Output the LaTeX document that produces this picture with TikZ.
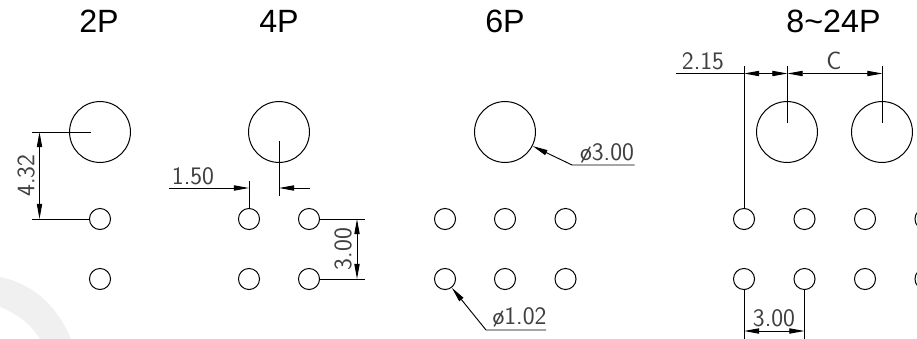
\documentclass[tikz,border=0pt]{standalone}
\usepackage{fontspec}
\usepackage{tikz}
\usetikzlibrary{arrows.meta}
\newfontfamily\titlefont{Liberation Sans}
\tikzset{
    bighole/.style={circle,draw,line width=0.85pt,minimum size=52pt,inner sep=0pt},
    pad/.style={circle,draw,line width=0.85pt,minimum size=18pt,inner sep=0pt},
    title/.style={font=\titlefont\fontsize{27.5}{30}\selectfont},
    dimtext/.style={font=\sffamily\fontsize{21.5}{22}\selectfont,text=black!75,inner sep=0pt},
    dimline/.style={line width=0.8pt},
    dimarrow/.style={line width=0.8pt,{Triangle[length=13pt,width=4.5pt]}-{Triangle[length=13pt,width=4.5pt]}},
    tipend/.style={line width=0.8pt,-{Triangle[length=13pt,width=4.5pt]}}
}
\begin{document}
\begin{tikzpicture}[x=0.03cm,y=-0.03cm]
        \useasboundingbox (0,0) rectangle (917,339);
        \clip (0,0) rectangle (917,339);

        % Marca de fundo
        \fill[black!6] (0,277) .. controls (35,284) and (58,308) .. (71,339) -- (40,339) .. controls (31,324) and (16,313) .. (0,307) -- cycle;

        % Titulos
        \node[title] (t2) at (99,21) {2P};
        \node[title] (t4) at (279,21) {4P};
        \node[title] (t6) at (505,21) {6P};
        \node[title] (t8) at (833.5,21) {8\textasciitilde24P};

        % Furos grandes
        \foreach \name/\x in {a/100,b/279,c/505,d/787,e/882} {
            \node[bighole] (big\name) at (\x,132) {};
        }

        % Furos pequenos
        \foreach \name/\x in {a/100,ba/249,bb/309,ca/445,cb/505,cc/565.5,da/744,db/804.5,dc/865,dd/925.5} {
            \node[pad] (up\name) at (\x,219) {};
            \node[pad] (lo\name) at (\x,279) {};
        }

        % 2P: 4.32
        \coordinate (a1) at (32,132);
        \coordinate (a2) at (91,132);
        \coordinate (a3) at (32,219);
        \coordinate (a4) at (39.5,132);
        \coordinate (a5) at (39.5,219);
        \draw[dimline] (a1) -- (a2);
        \draw[dimline] (a3) -- (upa.west);
        \draw[dimarrow] (a4) -- (a5);
        \node[dimtext,rotate=90] (d432) at (26,175.5) {4.32};

        % 4P: 1.50
        \coordinate (b1) at (249,181);
        \coordinate (b2) at (279,141);
        \coordinate (b3) at (279,196);
        \coordinate (b4) at (168.5,188);
        \coordinate (b5) at (249,188);
        \coordinate (b6) at (309.5,188);
        \coordinate (b7) at (279,188);
        \draw[dimline] (b1) -- (upba.north);
        \draw[dimline] (b2) -- (b3);
        \draw[tipend] (b4) -- (b5);
        \draw[tipend] (b6) -- (b7);
        \node[dimtext] (d150) at (193,176) {1.50};

        % 4P: 3.00
        \coordinate (c1) at (365,219);
        \coordinate (c2) at (365,279);
        \coordinate (c3) at (357,219);
        \coordinate (c4) at (357,279);
        \draw[dimline] (upbb.east) -- (c1);
        \draw[dimline] (lobb.east) -- (c2);
        \draw[dimarrow] (c3) -- (c4);
        \node[dimtext,rotate=90] (d300a) at (343,249) {3.00};

        % 6P: diametros
        \coordinate (e1) at (572,165);
        \coordinate (e2) at (634.5,165);
        \coordinate (e3) at (486,330);
        \coordinate (e4) at (546,330);
        \draw[tipend] (e2) -- (e1) -- (bigc.-27);
        \draw[tipend] (e4) -- (e3) -- (loca.-52);
        \node[dimtext] (dbig) at (607,153) {\o3.00};
        \node[dimtext] (dsmall) at (519.5,317) {\o1.02};

        % 8~24P: 2.15 e C
        \coordinate (f1) at (676,73.5);
        \coordinate (f2) at (744,66);
        \coordinate (f3) at (744,73.5);
        \coordinate (f4) at (787.5,66);
        \coordinate (f5) at (787.5,123);
        \coordinate (f6) at (787.5,73.5);
        \coordinate (f7) at (882.5,66);
        \coordinate (f8) at (882.5,123);
        \coordinate (f9) at (882.5,73.5);
        \draw[dimline] (f2) -- (upda.north);
        \draw[dimline] (f4) -- (f5);
        \draw[dimline] (f7) -- (f8);
        \draw[dimline] (f1) -- (f3);
        \draw[dimarrow] (f3) -- (f6);
        \draw[dimarrow] (f6) -- (f9);
        \node[dimtext] (d215) at (703,61) {2.15};
        \node[dimtext] (dc) at (834,61) {C};

        % 8~24P: 3.00
        \coordinate (g1) at (744,339);
        \coordinate (g2) at (804.5,339);
        \coordinate (g3) at (744,331);
        \coordinate (g4) at (804.5,331);
        \draw[dimline] (loda.south) -- (g1);
        \draw[dimline] (lodb.south) -- (g2);
        \draw[dimarrow] (g3) -- (g4);
        \node[dimtext] (d300b) at (774,318) {3.00};
    \end{tikzpicture}
\end{document}
